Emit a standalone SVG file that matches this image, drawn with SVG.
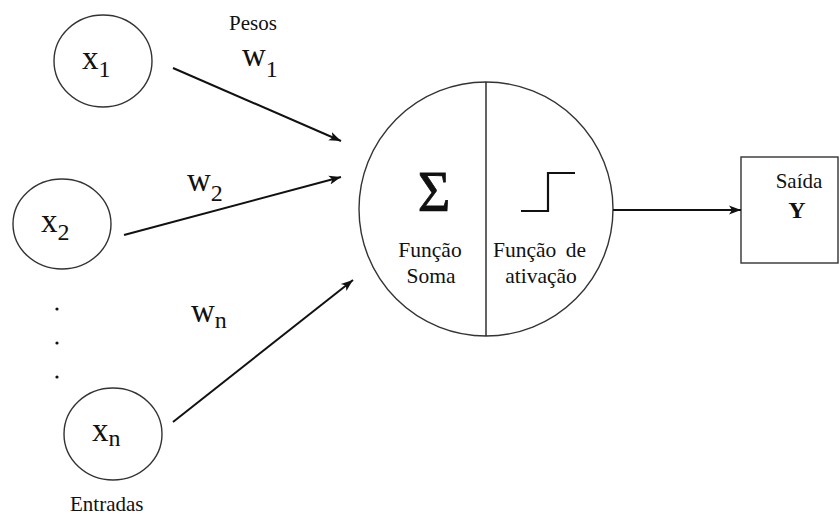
<svg xmlns="http://www.w3.org/2000/svg" width="840" height="515" viewBox="0 0 840 515" font-family="'Liberation Serif', 'DejaVu Serif', serif">
<style>
text{fill:#111}
.node{fill:#fff;stroke:#333;stroke-width:1.4}
.conn{stroke:#111;stroke-width:2;fill:none}
.var{font-size:33px}
.sub{font-size:24px}
.lbl{font-size:21px}
.fn{font-size:21.5px}
</style>
<defs>
<marker id="ah" markerUnits="userSpaceOnUse" markerWidth="14" markerHeight="10" refX="12" refY="5" orient="auto">
<path d="M0,0.5 L12,5 L0,9.5 L3,5 Z" fill="#111"/>
</marker>
</defs>
<rect width="840" height="515" fill="#fff"/>
<g id="x1">
<ellipse class="node" cx="103" cy="61" rx="49" ry="46"/>
<text x="82" y="69" class="var">x<tspan class="sub" dy="8">1</tspan></text>
</g>
<g id="x2">
<ellipse class="node" cx="62" cy="224" rx="49" ry="45"/>
<text x="41" y="232" class="var">x<tspan class="sub" dy="8">2</tspan></text>
</g>
<g id="xn">
<ellipse class="node" cx="113" cy="434" rx="49" ry="46"/>
<text x="92" y="441" class="var">x<tspan class="sub" dy="5">n</tspan></text>
</g>
<g id="dots" fill="#111">
<circle cx="57" cy="309" r="1.6"/>
<circle cx="57" cy="343" r="1.6"/>
<circle cx="57" cy="377" r="1.6"/>
</g>
<g id="labels">
<text x="229" y="30" class="lbl">Pesos</text>
<text x="242" y="66" class="var">w<tspan class="sub" dy="11">1</tspan></text>
<text x="187" y="191" class="var">w<tspan class="sub" dy="10">2</tspan></text>
<text x="191" y="322" class="var">w<tspan class="sub" dy="6">n</tspan></text>
<text x="70" y="511" class="lbl">Entradas</text>
</g>
<g id="neuron">
<circle class="node" cx="486" cy="209" r="127"/>
<line x1="486" y1="82" x2="486" y2="336" stroke="#222" stroke-width="1.4"/>
<text x="434" y="211" font-size="56" stroke="#111" stroke-width="0.8" text-anchor="middle">Σ</text>
<path d="M521,211 H548 V173 H575" fill="none" stroke="#111" stroke-width="2.2"/>
<text x="430" y="257" class="fn" text-anchor="middle">Função</text>
<text x="431" y="283" class="fn" text-anchor="middle">Soma</text>
<text x="493" y="257" class="fn" word-spacing="4">Função de</text>
<text x="541" y="283" class="fn" text-anchor="middle">ativação</text>
</g>
<g id="output">
<rect class="node" x="741" y="157" width="97" height="106"/>
<text x="799" y="188" class="lbl" text-anchor="middle">Saída</text>
<text x="797" y="218" font-size="24" font-weight="bold" text-anchor="middle">Y</text>
</g>
<g id="connectors">
<line class="conn" x1="173" y1="68" x2="341" y2="141" marker-end="url(#ah)"/>
<line class="conn" x1="124" y1="235" x2="341" y2="177" marker-end="url(#ah)"/>
<line class="conn" x1="173" y1="422" x2="353" y2="280" marker-end="url(#ah)"/>
<line class="conn" x1="613" y1="210" x2="741" y2="210" marker-end="url(#ah)"/>
</g>
</svg>
